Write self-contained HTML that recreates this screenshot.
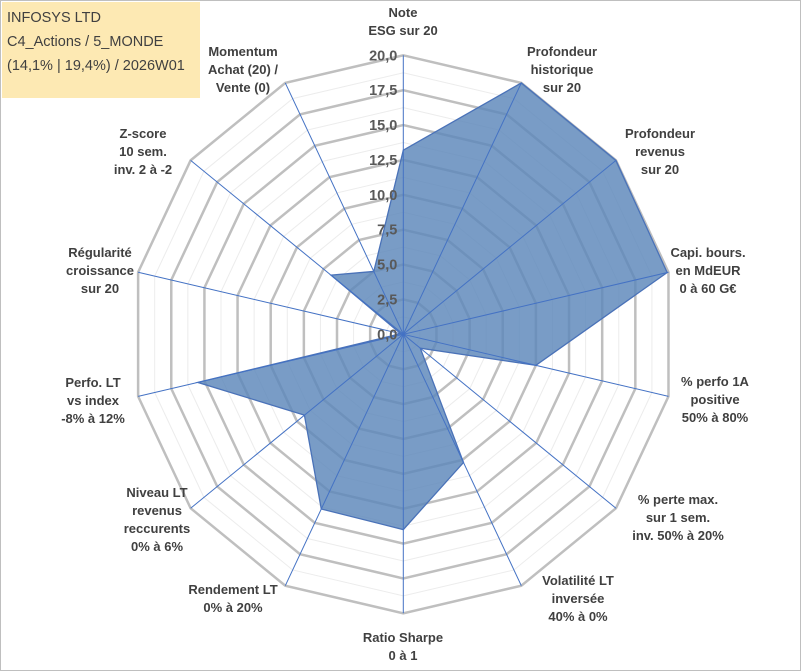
<!DOCTYPE html>
<html><head><meta charset="utf-8"><style>
html,body{margin:0;padding:0;background:#fff}
svg{display:block;font-family:"Liberation Sans",sans-serif}
</style></head><body>
<svg id="chart" width="801" height="671" viewBox="0 0 801 671">
<rect x="0.5" y="0.5" width="800" height="670" fill="#fff" stroke="#bfbfbf"/>
<g id="grid"></g><g id="series"></g><g id="spokes"></g><g id="ticks"></g><g id="labels"></g>
<g>
<rect x="2" y="2" width="198" height="96" fill="#fde9b3"/>
<text x="7" y="22" font-size="14.5" fill="#404040">INFOSYS LTD</text>
<text x="7" y="46" font-size="14.5" fill="#404040">C4_Actions / 5_MONDE</text>
<text x="7" y="70" font-size="14.5" fill="#404040">(14,1% | 19,4%) / 2026W01</text>
</g>
</svg>
<script>
const categories=[["Note","ESG sur 20"],["Profondeur","historique","sur 20"],["Profondeur","revenus","sur 20"],["Capi. bours.","en MdEUR","0 à 60 G€"],["% perfo 1A","positive","50% à 80%"],["% perte max.","sur 1 sem.","inv. 50% à 20%"],["Volatilité LT","inversée","40% à 0%"],["Ratio Sharpe","0 à 1"],["Rendement LT","0% à 20%"],["Niveau LT","revenus","reccurents","0% à 6%"],["Perfo. LT","vs index","-8% à 12%"],["Régularité","croissance","sur 20"],["Z-score","10 sem.","inv. 2 à -2"],["Momentum","Achat (20) /","Vente (0)"]];
const values=[13.2,20,20,19.9,10,1.6,10.2,14,13.9,9.3,15.5,0.2,6.8,5.0];
const tickValues=[0,2.5,5,7.5,10,12.5,15,17.5,20];
const tickLabels=["0,0","2,5","5,0","7,5","10,0","12,5","15,0","17,5","20,0"];
const labelPos=[[403,12],[562,51],[660,133],[708,252],[715,381],[678,499],[578,580],[403,637],[233,589],[157,492],[93,382],[100,252],[143,133],[243,51]];
const cx=403.3,cy=334.3,Rx=272,Ry=279,maxV=20;
const NS="http://www.w3.org/2000/svg";
const n=categories.length;
function ang(i){return i*2*Math.PI/n;}
function pt(i,v){const f=v/maxV,a=ang(i);return [cx+f*Rx*Math.sin(a),cy-f*Ry*Math.cos(a)];}
function mk(tag,attrs,parent){const e=document.createElementNS(NS,tag);for(const k in attrs)e.setAttribute(k,attrs[k]);parent.appendChild(e);return e;}
const grid=document.getElementById('grid');
for(let k=1;k<=16;k++){const v=k*1.25;const pts=[];for(let i=0;i<n;i++)pts.push(pt(i,v).join(','));
const major=k%2===0;
const g=mk('polygon',{points:pts.join(' '),fill:'none',stroke:major?'#bfbfbf':'#ececec','stroke-width':major?2.5:1},grid);

}
const s=document.getElementById('series');
const poly=mk('polygon',{points:values.map((v,i)=>pt(i,v).join(',')).join(' '),fill:'#5b86b9','fill-opacity':0.82,stroke:'#4a72b8','stroke-width':1.3},s);


const sp=document.getElementById('spokes');
for(let i=0;i<n;i++){const p=pt(i,maxV);const l=mk('line',{x1:cx,y1:cy,x2:p[0],y2:p[1],stroke:'#4472c4','stroke-width':1},sp);

}
const tk=document.getElementById('ticks');
tickValues.forEach((v,j)=>{const p=pt(0,v);const t=mk('text',{x:p[0]-6,y:p[1]+5,'text-anchor':'end','font-size':14.5,'font-weight':'bold',fill:'#595959'},tk);t.textContent=tickLabels[j];

});
const lb=document.getElementById('labels');
categories.forEach((c,i)=>{const g=mk('text',{'text-anchor':'middle','font-size':13,'font-weight':'bold',fill:'#404040'},lb);


c.forEach((line,j)=>{const ts=mk('tspan',{x:labelPos[i][0],y:labelPos[i][1]+5+j*18},g);ts.textContent=line;});});
</script>
</body></html>
